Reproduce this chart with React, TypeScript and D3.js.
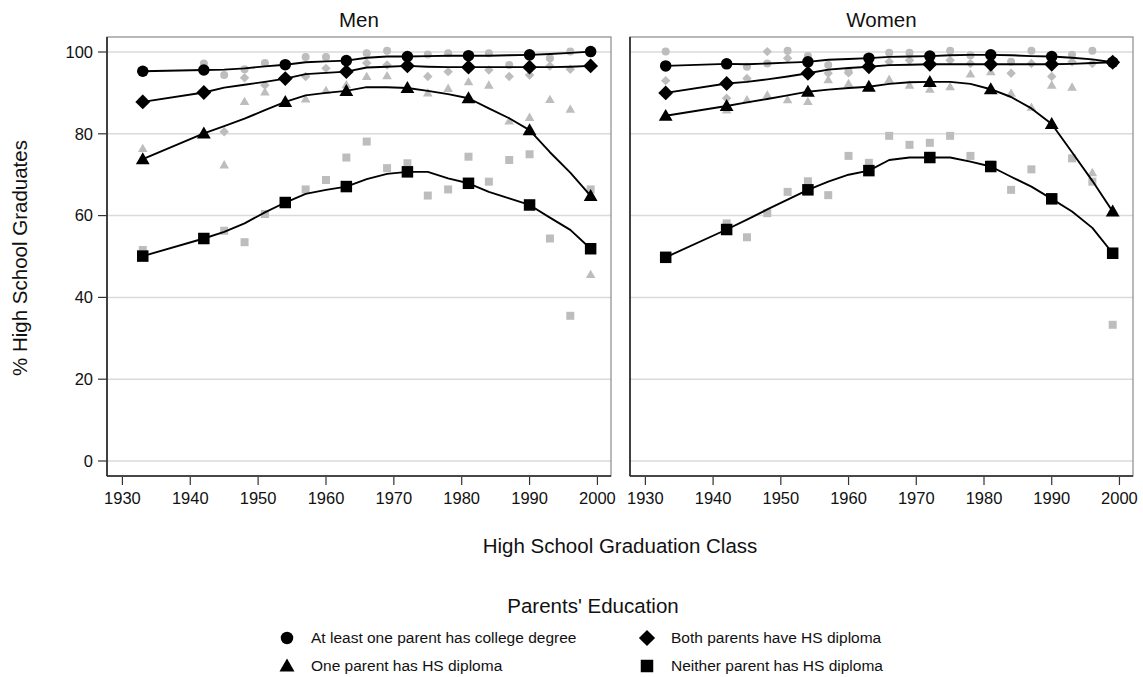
import * as d3 from "d3";

// Years for which the smoothed curves and the grey cohort points are plotted
const FIT_YEARS = [
  1933, 1942, 1945, 1948, 1951, 1954, 1957, 1960, 1963, 1966, 1969, 1972, 1975,
  1978, 1981, 1984, 1987, 1990, 1993, 1996, 1999,
];
// Black markers sit on the curves at these years
const MARKER_YEARS = [1933, 1942, 1954, 1963, 1972, 1981, 1990, 1999];

const PANELS = ["Men", "Women"];
const SERIES = [
  "At least one parent has college degree",
  "Both parents have HS diploma",
  "One parent has HS diploma",
  "Neither parent has HS diploma",
];
const SHAPES = ["circle", "diamond", "triangle", "square"];

const Y_TICKS = [0, 20, 40, 60, 80, 100];
const X_TICKS = [1930, 1940, 1950, 1960, 1970, 1980, 1990, 2000];

// Men - smoothed curves
const MEN_FIT_COLLEGE = [95.3, 95.6, 95.7, 96.0, 96.5, 96.9, 97.5, 97.7, 97.9, 98.6, 98.9, 98.9, 99.0, 99.1, 99.1, 99.1, 99.2, 99.3, 99.5, 99.8, 100.1];
const MEN_FIT_BOTH = [87.8, 90.1, 91.3, 92.0, 92.7, 93.5, 94.6, 94.9, 95.2, 96.2, 96.4, 96.6, 96.4, 96.3, 96.3, 96.3, 96.3, 96.3, 96.3, 96.4, 96.6];
const MEN_FIT_ONE = [73.8, 80.1, 81.9, 83.7, 85.8, 87.8, 89.4, 90.0, 90.5, 91.4, 91.4, 91.2, 90.5, 89.7, 88.7, 86.2, 83.8, 80.9, 75.5, 70.5, 64.8];
const MEN_FIT_NEITHER = [50.1, 54.4, 56.0, 58.1, 60.8, 63.2, 65.3, 66.3, 67.1, 68.9, 70.2, 70.7, 70.7, 69.1, 67.9, 65.8, 64.2, 62.6, 59.5, 56.5, 51.9];

// Men - grey cohort points
const MEN_PTS_COLLEGE = [95.5, 97.2, 94.4, 95.8, 97.3, 97.0, 98.8, 98.8, 98.0, 99.7, 100.3, 99.0, 99.4, 99.7, 99.2, 99.7, 96.8, 99.3, 98.5, 100.1, 100.0];
const MEN_PTS_BOTH = [88.5, 90.5, 80.5, 93.7, 91.9, 93.3, 94.0, 96.0, 95.5, 97.3, 96.8, 96.5, 94.0, 95.2, 96.5, 95.6, 94.0, 94.4, 96.6, 95.8, 96.8];
const MEN_PTS_ONE = [76.4, 80.5, 72.4, 87.9, 90.2, 87.5, 88.5, 90.6, 92.0, 94.0, 94.2, 91.0, 90.0, 91.1, 92.7, 91.9, 83.1, 84.0, 88.4, 86.0, 45.6];
const MEN_PTS_NEITHER = [51.6, 54.0, 56.3, 53.5, 60.4, 63.5, 66.4, 68.7, 74.2, 78.1, 71.6, 72.8, 64.9, 66.4, 74.4, 68.3, 73.6, 75.0, 54.4, 35.5, 66.4];

// Women - smoothed curves
const WOMEN_FIT_COLLEGE = [96.6, 97.1, 97.0, 97.2, 97.4, 97.6, 98.1, 98.3, 98.5, 98.8, 98.9, 99.0, 99.2, 99.3, 99.3, 99.2, 99.0, 98.9, 98.6, 98.2, 97.5];
const WOMEN_FIT_BOTH = [90.0, 92.3, 92.7, 93.3, 94.0, 94.8, 95.7, 96.1, 96.4, 96.8, 96.9, 97.0, 97.0, 97.0, 97.0, 97.0, 97.0, 97.0, 97.1, 97.3, 97.5];
const WOMEN_FIT_ONE = [84.4, 86.8, 87.7, 88.5, 89.4, 90.3, 90.8, 91.2, 91.5, 92.2, 92.6, 92.7, 92.7, 92.2, 90.9, 89.0, 86.2, 82.4, 75.5, 68.5, 61.0];
const WOMEN_FIT_NEITHER = [49.8, 56.6, 59.0, 61.5, 63.9, 66.3, 68.3, 70.0, 71.0, 73.6, 74.2, 74.2, 74.2, 73.2, 72.0, 69.5, 67.1, 64.1, 61.0, 57.0, 50.8];

// Women - grey cohort points
const WOMEN_PTS_COLLEGE = [100.1, 97.0, 96.4, 97.2, 100.3, 99.0, 96.8, 95.2, 98.4, 99.8, 99.8, 99.2, 100.3, 99.2, 99.3, 97.6, 100.3, 98.9, 99.3, 100.3, 97.8];
const WOMEN_PTS_BOTH = [93.0, 88.7, 93.5, 100.1, 98.5, 94.5, 94.8, 94.9, 96.2, 97.6, 98.0, 97.0, 98.0, 97.2, 97.0, 94.8, 97.2, 94.0, 97.6, 97.2, 97.6];
const WOMEN_PTS_ONE = [84.8, 85.8, 88.3, 89.5, 88.3, 87.9, 93.2, 92.3, 91.5, 93.3, 91.9, 90.9, 91.5, 94.6, 95.2, 89.9, 86.5, 91.9, 91.4, 70.5, 61.5];
const WOMEN_PTS_NEITHER = [49.5, 58.1, 54.7, 60.6, 65.8, 68.4, 65.0, 74.6, 72.9, 79.5, 77.3, 77.8, 79.5, 74.6, 72.5, 66.3, 71.3, 64.5, 74.0, 68.3, 33.3];

const FITS: Record<string, number[][]> = {
  Men: [MEN_FIT_COLLEGE, MEN_FIT_BOTH, MEN_FIT_ONE, MEN_FIT_NEITHER],
  Women: [WOMEN_FIT_COLLEGE, WOMEN_FIT_BOTH, WOMEN_FIT_ONE, WOMEN_FIT_NEITHER],
};
const POINTS: Record<string, number[][]> = {
  Men: [MEN_PTS_COLLEGE, MEN_PTS_BOTH, MEN_PTS_ONE, MEN_PTS_NEITHER],
  Women: [WOMEN_PTS_COLLEGE, WOMEN_PTS_BOTH, WOMEN_PTS_ONE, WOMEN_PTS_NEITHER],
};

const WIDTH = 1143;
const HEIGHT = 677;
const FONT = "'Liberation Sans', Arial, Helvetica, sans-serif";
const GREY = "#bdbdbd";
const TITLE_SIZE = 20.5;
const TICK_SIZE = 16.5;

// marker path centred on 0,0
function markerPath(shape: string, size: number) {
  if (shape === "circle") {
    const r = size / 2;
    return `M${-r},0A${r},${r} 0 1,0 ${r},0A${r},${r} 0 1,0 ${-r},0Z`;
  }
  if (shape === "square") {
    const h = size / 2;
    return `M${-h},${-h}H${h}V${h}H${-h}Z`;
  }
  if (shape === "diamond") {
    const h = (size / 2) * 1.35;
    return `M0,${-h}L${h},0L0,${h}L${-h},0Z`;
  }
  // triangle, point up
  const s = size * 1.2;
  const th = (s * Math.sqrt(3)) / 2;
  return `M0,${-th * 0.58}L${s / 2},${th * 0.42}L${-s / 2},${th * 0.42}Z`;
}

function Panel({ name, x0, x1 }: { name: string; x0: number; x1: number }) {
  const top = 37;
  const bottom = 476;
  const x = d3.scaleLinear().domain([1927.73, 2002.0]).range([x0, x1]);
  const y = d3.scaleLinear().domain([-3.67, 103.67]).range([bottom, top]);
  const line = d3
    .line<number>()
    .x((_, i) => x(FIT_YEARS[i]))
    .y((d) => y(d));

  const fits = FITS[name];
  const pts = POINTS[name];

  return (
    <g>
      <text
        x={(x0 + x1) / 2}
        y={27}
        textAnchor="middle"
        fontSize={TITLE_SIZE}
        fill="#111"
      >
        {name}
      </text>
      {/* grid */}
      {Y_TICKS.map((t) => (
        <line
          key={t}
          x1={x0}
          x2={x1}
          y1={y(t)}
          y2={y(t)}
          stroke="#dadada"
          strokeWidth={1.5}
        />
      ))}
      {/* frame */}
      <rect
        x={x0}
        y={top}
        width={x1 - x0}
        height={bottom - top}
        fill="none"
        stroke="#8a8a8a"
        strokeWidth={1.2}
      />
      <line x1={x0} x2={x0} y1={top} y2={bottom} stroke="#222" strokeWidth={1.6} />
      <line x1={x0} x2={x1} y1={bottom} y2={bottom} stroke="#222" strokeWidth={1.6} />
      {/* x ticks */}
      {X_TICKS.map((t) => (
        <g key={t}>
          <line
            x1={x(t)}
            x2={x(t)}
            y1={bottom + 1}
            y2={bottom + 9}
            stroke="#333"
            strokeWidth={1.2}
          />
          <text
            x={x(t)}
            y={bottom + 28}
            textAnchor="middle"
            fontSize={TICK_SIZE}
            fill="#111"
          >
            {t}
          </text>
        </g>
      ))}
      {/* grey cohort points */}
      {pts.map((vals, si) =>
        vals.map((v, i) => (
          <path
            key={`p${si}-${i}`}
            d={markerPath(SHAPES[si], si === 1 ? 7 : 8)}
            transform={`translate(${x(FIT_YEARS[i])},${y(v)})`}
            fill={GREY}
          />
        ))
      )}
      {/* smoothed curves */}
      {fits.map((vals, si) => (
        <path
          key={`l${si}`}
          d={line(vals) || ""}
          fill="none"
          stroke="#000"
          strokeWidth={1.9}
          strokeLinejoin="round"
        />
      ))}
      {/* black markers */}
      {fits.map((vals, si) =>
        MARKER_YEARS.map((yr) => {
          const i = FIT_YEARS.indexOf(yr);
          return (
            <path
              key={`m${si}-${yr}`}
              d={markerPath(SHAPES[si], si === 1 ? 11 : 11.5)}
              transform={`translate(${x(yr)},${y(vals[i])})`}
              fill="#000"
            />
          );
        })
      )}
    </g>
  );
}

export default function App() {
  const yLeft = d3.scaleLinear().domain([-3.67, 103.67]).range([476, 37]);
  const legendItems = [0, 1, 2, 3].map((i) => ({
    label: SERIES[i],
    shape: SHAPES[i],
    col: i === 0 || i === 2 ? 0 : 1,
    row: i < 2 ? 0 : 1,
  }));

  return (
    <div style={{ position: "absolute", left: 0, top: 0 }}>
      <svg
        width={WIDTH}
        height={HEIGHT}
        style={{ display: "block", background: "#fff", fontFamily: FONT }}
      >
        <rect width={WIDTH} height={HEIGHT} fill="#fff" />
        {/* y axis ticks and labels on the left panel */}
        {Y_TICKS.map((t) => (
          <g key={t}>
            <line
              x1={98}
              x2={107}
              y1={yLeft(t)}
              y2={yLeft(t)}
              stroke="#333"
              strokeWidth={1.2}
            />
            <text
              x={93}
              y={yLeft(t)}
              dy="0.35em"
              textAnchor="end"
              fontSize={TICK_SIZE}
              fill="#111"
            >
              {t}
            </text>
          </g>
        ))}
        <text
          transform="translate(27,258) rotate(-90)"
          textAnchor="middle"
          fontSize={TITLE_SIZE}
          fill="#111"
        >
          % High School Graduates
        </text>
        <Panel name={PANELS[0]} x0={107} x1={611} />
        <Panel name={PANELS[1]} x0={630} x1={1133} />
        <text x={620} y={553} textAnchor="middle" fontSize={TITLE_SIZE} fill="#111">
          High School Graduation Class
        </text>
        {/* legend */}
        <text x={593} y={613} textAnchor="middle" fontSize={TITLE_SIZE} fill="#111">
          Parents' Education
        </text>
        {legendItems.map((it) => {
          const mx = it.col === 0 ? 287 : 647;
          const my = it.row === 0 ? 638 : 666;
          return (
            <g key={it.label}>
              <path
                d={markerPath(it.shape, it.shape === "diamond" ? 12 : 12.5)}
                transform={`translate(${mx},${my})`}
                fill="#000"
              />
              <text x={mx + 24} y={my} dy="0.35em" fontSize={15.5} fill="#111">
                {it.label}
              </text>
            </g>
          );
        })}
      </svg>
    </div>
  );
}
